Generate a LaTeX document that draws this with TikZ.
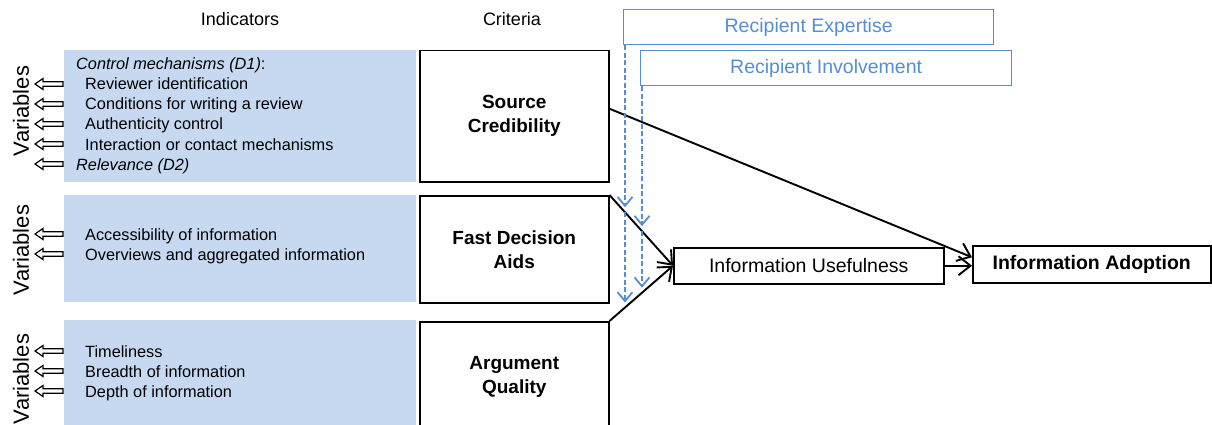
\documentclass[tikz,border=0pt]{standalone}
\usepackage{fontspec}
\setmainfont{Liberation Sans}
\usetikzlibrary{arrows.meta,calc,intersections}
\definecolor{indfill}{RGB}{198,217,241}
\definecolor{modblue}{RGB}{85,142,213}
\begin{document}
\begin{tikzpicture}[x=1pt,y=-1pt,
  ind/.style={fill=indfill, anchor=north west, inner sep=0pt},
  crit/.style={draw=black, line width=1.5pt, fill=white, align=center, anchor=north west,
    inner sep=0pt, font=\bfseries\fontsize{19}{24}\selectfont},
  outbox/.style={draw=black, line width=1.5pt, fill=white, anchor=north west, inner sep=0pt},
  modbox/.style={draw=modblue, line width=1.3pt, fill=white, text=modblue, anchor=north west,
    inner sep=0pt, font=\fontsize{19.5}{23}\selectfont},
  item/.style={anchor=base west, inner sep=0pt, font=\fontsize{16.3}{19}\selectfont},
  head/.style={inner sep=0pt, font=\fontsize{18}{21}\selectfont},
  varlabel/.style={rotate=90, inner sep=0pt, font=\fontsize{22}{26}\selectfont},
  flow/.style={line width=1.9pt, -{Straight Barb[length=12pt,width=19pt]}},
  moder/.style={modblue, line width=1.8pt, dash pattern=on 5pt off 2.5pt,
    -{Straight Barb[length=9pt,width=15pt]}, shorten >=5pt},
  varrow/.pic={\draw[line width=1.2pt, line join=miter]
    (0,0) -- (8,-5.5) -- (8,-2.3) -- (28,-2.3) -- (28,2.3) -- (8,2.3) -- (8,5.5) -- cycle;}
]
\useasboundingbox (0,0) rectangle (1212,425);
\clip (0,0) rectangle (1212,425);

% column headers
\node[head] (hind) at (240,19) {Indicators};
\node[head] (hcrit) at (512,19) {Criteria};

% indicator panels
\node[ind, minimum width=352pt, minimum height=132pt] (ind1) at (64,50) {};
\node[ind, minimum width=352pt, minimum height=107pt] (ind2) at (64,195) {};
\node[ind, minimum width=352pt, minimum height=115pt] (ind3) at (64,320) {};

% indicator texts
\node[item] (t10) at (76,70) {\textit{Control mechanisms (D1)}:};
\node[item] (t11) at (85,90) {Reviewer identification};
\node[item] (t12) at (85,110) {Conditions for writing a review};
\node[item] (t13) at (85,130) {Authenticity control};
\node[item] (t14) at (85,150) {Interaction or contact mechanisms};
\node[item] (t15) at (76,170) {\textit{Relevance (D2)}};
\node[item] (t21) at (85,240) {Accessibility of information};
\node[item] (t22) at (85,260) {Overviews and aggregated information};
\node[item] (t31) at (85,357) {Timeliness};
\node[item] (t32) at (85,377) {Breadth of information};
\node[item] (t33) at (85,397) {Depth of information};

% variable labels and arrows
\node[varlabel] (v1) at (21,111) {Variables};
\node[varlabel] (v2) at (21,250) {Variables};
\node[varlabel] (v3) at (21,379) {Variables};
\foreach \yy in {84,104,124,144,164,234,254,351,371,391}
  \pic at (35,\yy) {varrow};

% criteria
\node[crit, minimum width=189pt, minimum height=131pt] (sc) at (419,50) {Source\\Credibility};
\node[crit, minimum width=189pt, minimum height=107pt] (fda) at (419,195) {Fast Decision\\Aids};
\node[crit, minimum width=189pt, minimum height=111pt] (aq) at (419,321) {Argument\\Quality};

% outcomes
\node[outbox, minimum width=270pt, minimum height=36pt, font=\fontsize{19.5}{23}\selectfont]
  (iu) at (673,247) {Information Usefulness};
\node[outbox, minimum width=238pt, minimum height=37pt, font=\bfseries\fontsize{19.5}{23}\selectfont]
  (ia) at (972,245) {Information Adoption};

% moderators
\node[modbox, minimum width=370pt, minimum height=35pt] (re) at (623,9) {Recipient Expertise};
\node[modbox, minimum width=371pt, minimum height=35pt] (ri) at (640,50) {Recipient Involvement};

% main paths
\draw[flow] ($(sc.east)+(0pt,7.5pt)$) -- ($(ia.west)+(0pt,7pt)$);
\draw[flow] (fda.north east) -- (iu.west);
\draw[flow] (aq.north east) -- (iu.west);
\draw[flow] (iu.east) -- (iu.east -| ia.west);

% moderating effects
\path[name path=upline] (fda.north east) -- (iu.west);
\path[name path=loline] (aq.north east) -- (iu.west);
\coordinate (e0) at ($(re.south west)+(2pt,0pt)$);
\coordinate (i0) at ($(ri.south west)+(2pt,0pt)$);
\path[name path=edrop] (e0) -- ++(0,320);
\path[name path=idrop] (i0) -- ++(0,320);
\path[name intersections={of=edrop and upline, by=e1}];
\path[name intersections={of=edrop and loline, by=e2}];
\path[name intersections={of=idrop and upline, by=i1}];
\path[name intersections={of=idrop and loline, by=i2}];
\draw[moder] (e0) -- (e1);
\draw[moder] (e1) -- (e2);
\draw[moder] (i0) -- (i1);
\draw[moder] (i1) -- (i2);
\end{tikzpicture}
\end{document}
